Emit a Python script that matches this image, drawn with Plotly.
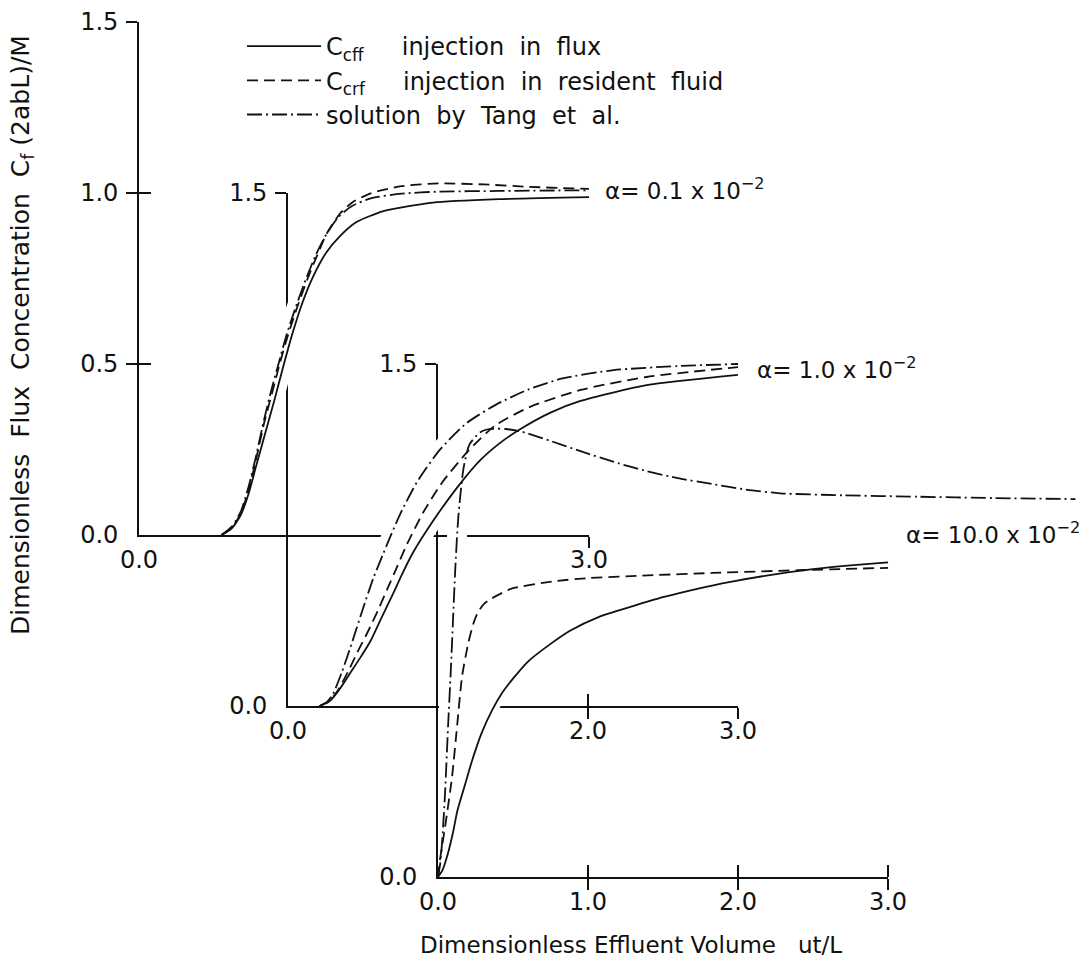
import numpy as np
import plotly.graph_objects as go

# ---------------- data (dimensionless effluent volume ut/L vs C_f(2abL)/M) ----------------
# alpha = 0.1 x 10^-2
p1_x_cff = [0.55, 0.62, 0.68, 0.73, 0.78, 0.84, 0.90, 0.96, 1.02, 1.09, 1.16, 1.25, 1.34, 1.45, 1.63, 1.96, 2.40, 3.00]
p1_y_cff = [0.00, 0.02, 0.06, 0.12, 0.20, 0.295, 0.39, 0.49, 0.585, 0.68, 0.755, 0.827, 0.874, 0.915, 0.947, 0.972, 0.982, 0.988]
p1_x_crf = [0.55, 0.62, 0.68, 0.73, 0.78, 0.83, 0.89, 0.94, 0.99, 1.05, 1.12, 1.19, 1.25, 1.34, 1.43, 1.55, 1.75, 2.00, 2.30, 2.60, 3.00]
p1_y_crf = [0.00, 0.02, 0.065, 0.13, 0.22, 0.32, 0.42, 0.504, 0.58, 0.66, 0.745, 0.82, 0.88, 0.94, 0.975, 1.00, 1.02, 1.028, 1.025, 1.018, 1.012]
p1_x_tang = [0.55, 0.62, 0.68, 0.73, 0.78, 0.83, 0.88, 0.93, 0.98, 1.04, 1.11, 1.18, 1.25, 1.33, 1.42, 1.55, 1.75, 2.00, 2.40, 3.00]
p1_y_tang = [0.00, 0.025, 0.07, 0.14, 0.23, 0.33, 0.42, 0.50, 0.58, 0.66, 0.745, 0.82, 0.88, 0.93, 0.962, 0.985, 0.998, 1.004, 1.006, 1.008]

# alpha = 1.0 x 10^-2
p2_x_cff = [0.21, 0.28, 0.35, 0.42, 0.48, 0.55, 0.62, 0.70, 0.76, 0.83, 0.97, 1.13, 1.28, 1.41, 1.55, 1.75, 1.95, 2.39, 3.00]
p2_y_cff = [0.00, 0.015, 0.053, 0.10, 0.14, 0.19, 0.255, 0.328, 0.385, 0.446, 0.543, 0.64, 0.718, 0.768, 0.81, 0.858, 0.892, 0.938, 0.968]
p2_x_crf = [0.21, 0.27, 0.33, 0.40, 0.46, 0.53, 0.60, 0.66, 0.73, 0.79, 0.90, 1.03, 1.20, 1.38, 1.61, 1.95, 2.39, 3.00]
p2_y_crf = [0.00, 0.012, 0.044, 0.10, 0.155, 0.215, 0.28, 0.34, 0.41, 0.47, 0.565, 0.655, 0.745, 0.82, 0.874, 0.924, 0.962, 0.991]
p2_x_tang = [0.21, 0.26, 0.30, 0.36, 0.43, 0.50, 0.57, 0.63, 0.68, 0.75, 0.86, 1.01, 1.19, 1.39, 1.60, 1.83, 2.17, 2.60, 3.00]
p2_y_tang = [0.00, 0.012, 0.035, 0.10, 0.19, 0.285, 0.375, 0.44, 0.493, 0.563, 0.655, 0.748, 0.827, 0.882, 0.925, 0.958, 0.982, 0.994, 1.00]

# alpha = 10.0 x 10^-2
p3_x_cff = [0.00, 0.03, 0.067, 0.10, 0.13, 0.18, 0.227, 0.29, 0.36, 0.43, 0.50, 0.60, 0.73, 0.88, 1.07, 1.30, 1.50, 1.75, 1.95, 2.20, 2.50, 2.75, 3.00]
p3_y_cff = [0.00, 0.02, 0.07, 0.13, 0.195, 0.27, 0.34, 0.42, 0.487, 0.54, 0.58, 0.63, 0.675, 0.72, 0.76, 0.792, 0.818, 0.845, 0.863, 0.882, 0.90, 0.911, 0.92]
p3_x_crf = [0.00, 0.013, 0.047, 0.093, 0.127, 0.16, 0.20, 0.235, 0.267, 0.31, 0.36, 0.49, 0.76, 1.00, 1.40, 1.83, 2.40, 3.00]
p3_y_crf = [0.00, 0.05, 0.146, 0.29, 0.44, 0.585, 0.68, 0.74, 0.775, 0.80, 0.815, 0.843, 0.864, 0.874, 0.882, 0.889, 0.897, 0.904]
p3_x_tang = [0.00, 0.015, 0.027, 0.047, 0.067, 0.085, 0.10, 0.115, 0.135, 0.17, 0.21, 0.28, 0.35, 0.45, 0.55, 0.75, 0.95, 1.20, 1.39, 1.60, 1.83, 2.05, 2.28, 2.70, 3.20, 3.70, 4.25]
p3_y_tang = [0.00, 0.04, 0.10, 0.245, 0.44, 0.60, 0.75, 0.90, 1.05, 1.195, 1.265, 1.30, 1.31, 1.31, 1.303, 1.275, 1.245, 1.21, 1.187, 1.166, 1.149, 1.133, 1.122, 1.116, 1.112, 1.108, 1.105]

alpha_labels = ["α= 0.1 x 10<sup>−2</sup>", "α= 1.0 x 10<sup>−2</sup>", "α= 10.0 x 10<sup>−2</sup>"]

# tick labels / tick marks of each panel
x_label_vals = [[0, 3], [0, 2, 3], [0, 1, 2, 3]]
x_mark_vals = [[3], [2, 3], [1, 2, 3]]
y_label_vals = [[0, 0.5, 1.0, 1.5], [0, 1.5], [0, 1.5]]
y_mark_vals = [[0.5, 1.0, 1.5], [1.5], [1.5]]

legend_names = {
    "cff": "C<sub>cff</sub>\u00a0\u00a0\u00a0\u00a0 injection\u00a0 in\u00a0 flux",
    "crf": "C<sub>crf</sub>\u00a0\u00a0\u00a0\u00a0 injection\u00a0 in\u00a0 resident\u00a0 fluid",
    "tang": "solution\u00a0 by\u00a0 Tang\u00a0 et\u00a0 al.",
}

panels = [
    {"cff": (p1_x_cff, p1_y_cff), "crf": (p1_x_crf, p1_y_crf), "tang": (p1_x_tang, p1_y_tang)},
    {"cff": (p2_x_cff, p2_y_cff), "crf": (p2_x_crf, p2_y_crf), "tang": (p2_x_tang, p2_y_tang)},
    {"cff": (p3_x_cff, p3_y_cff), "crf": (p3_x_crf, p3_y_crf), "tang": (p3_x_tang, p3_y_tang)},
]

# ---------------- geometry & style ----------------
W, H = 1083, 966
X_SCALE, Y_SCALE = 150.0, 342.0          # px per unit
ORIGINS = [(139, 535), (288, 706), (438, 877)]
X_MAX_AXIS = 3.0
Y_MAX_AXIS = 1.5
X_MAX_CURVES = [3.0, 3.0, 4.3]

FONT = "DejaVu Sans"
INK = "#111111"
LW = 1.8
DASH = {"cff": "solid", "crf": "11px,6px", "tang": "15px,4px,2px,4px"}
HALO_W = {0: 18, 1: 18, 2: 11}
HALO_W_TANG3 = 20
LOW_CUT = 0.06      # halos stop short of a panel's own baseline
FILL_TOP3 = 0.6     # knock-out band of the alpha=10e-2 family near its own origin

# subplot slots, in drawing order (later slots are drawn on top)
A_SLOT = {0: 1, 1: 2, 2: 4}     # visible axes
H_SLOT = {2: 3, 0: 5, 1: 6}     # white knock-out halos
C_SLOT = {0: 7, 1: 8, 2: 9}     # curves + inner tick halves


def ax_id(letter, n):
    return letter if n == 1 else f"{letter}{n}"


def ax_key(letter, n):
    return f"{letter}axis" if n == 1 else f"{letter}axis{n}"


def xdom(p, xmax):
    x0 = ORIGINS[p][0]
    return [x0 / W, min(1.0, (x0 + X_SCALE * xmax) / W)]


def ydom(p, ymax):
    y0 = ORIGINS[p][1]
    return [1 - y0 / H, 1 - (y0 - Y_SCALE * ymax) / H]


def halo(xs, ys, xa, ya, width, fill="none"):
    return go.Scatter(x=xs, y=ys, mode="lines", xaxis=xa, yaxis=ya,
                      line=dict(color="white", width=width, shape="spline", smoothing=0.6),
                      fill=fill, fillcolor="white", showlegend=False, hoverinfo="skip")


fig = go.Figure()
slot_panel = {}
for p, s in A_SLOT.items():
    slot_panel[s] = ("A", p)
for p, s in H_SLOT.items():
    slot_panel[s] = ("H", p)
for p, s in C_SLOT.items():
    slot_panel[s] = ("C", p)

for slot in range(1, 10):
    kind, p = slot_panel[slot]
    xa, ya = ax_id("x", slot), ax_id("y", slot)
    curves = panels[p]
    if kind == "A":
        fig.add_trace(go.Scatter(x=[None], y=[None], mode="lines", xaxis=xa, yaxis=ya,
                                 showlegend=False, hoverinfo="skip"))
    elif kind == "H" and p in (0, 1):
        upper = "tang" if p == 1 else "crf"
        others = [k for k in ["tang", "crf"] if k != upper]
        for i, key in enumerate([upper, "cff"] + others):
            xs, ys = np.asarray(curves[key][0]), np.asarray(curves[key][1])
            m = ys >= LOW_CUT
            fig.add_trace(halo(xs[m], ys[m], xa, ya, HALO_W[p],
                               fill="tonexty" if i == 1 else "none"))
    elif kind == "H":
        # band between the Tang curve and C_cff close to the origin
        xt, yt = np.asarray(curves["tang"][0]), np.asarray(curves["tang"][1])
        xf, yf = np.asarray(curves["cff"][0]), np.asarray(curves["cff"][1])
        mt, mf = yt <= FILL_TOP3, yf <= FILL_TOP3
        fig.add_trace(halo(xt[mt], yt[mt], xa, ya, 1))
        fig.add_trace(halo(xf[mf], yf[mf], xa, ya, 1, fill="tonexty"))
        for key in ["tang", "crf", "cff"]:
            xs, ys = curves[key]
            fig.add_trace(halo(xs, ys, xa, ya, HALO_W_TANG3 if key == "tang" else HALO_W[p]))
    else:
        for key in ["cff", "crf", "tang"]:
            xs, ys = curves[key]
            fig.add_trace(go.Scatter(
                x=xs, y=ys, mode="lines", xaxis=xa, yaxis=ya,
                name=legend_names[key], showlegend=(p == 0),
                line=dict(color=INK, width=LW, dash=DASH[key], shape="spline", smoothing=0.6),
                hoverinfo="skip"))

tick_font = dict(family=FONT, size=24, color=INK)
layout_axes = {}
for slot in range(1, 10):
    kind, p = slot_panel[slot]
    xa, ya = ax_id("x", slot), ax_id("y", slot)
    xmax = X_MAX_AXIS if kind == "A" else X_MAX_CURVES[p]
    xd = dict(domain=xdom(p, xmax), range=[0, xmax], anchor=ya, automargin=False,
              showgrid=False, zeroline=False, fixedrange=True)
    yd = dict(domain=ydom(p, Y_MAX_AXIS), range=[0, Y_MAX_AXIS], anchor=xa, automargin=False,
              showgrid=False, zeroline=False, fixedrange=True)
    if kind == "A":
        xd.update(showline=True, linecolor=INK, linewidth=LW,
                  tickmode="array", tickvals=x_label_vals[p],
                  ticktext=[f"{v:.1f}" for v in x_label_vals[p]],
                  ticks="", tickfont=tick_font, ticklabelstandoff=2,
                  minor=dict(tickmode="array", tickvals=x_mark_vals[p], ticks="outside",
                             ticklen=11, tickwidth=LW, tickcolor=INK, showgrid=False))
        yd.update(showline=True, linecolor=INK, linewidth=LW,
                  tickmode="array", tickvals=y_label_vals[p],
                  ticktext=[f"{v:.1f}" for v in y_label_vals[p]],
                  ticks="", tickfont=tick_font, ticklabelstandoff=14,
                  minor=dict(tickmode="array", tickvals=y_mark_vals[p], ticks="outside",
                             ticklen=11, tickwidth=LW, tickcolor=INK, showgrid=False))
    elif kind == "C":
        xd.update(showline=False, showticklabels=False, tickmode="array",
                  tickvals=x_mark_vals[p], ticks="inside", ticklen=12,
                  tickwidth=LW, tickcolor=INK)
        yd.update(showline=False, showticklabels=False, tickmode="array",
                  tickvals=y_mark_vals[p], ticks="inside", ticklen=12,
                  tickwidth=LW, tickcolor=INK)
    else:
        xd.update(visible=False)
        yd.update(visible=False)
    layout_axes[ax_key("x", slot)] = xd
    layout_axes[ax_key("y", slot)] = yd

annotations = []
# alpha labels at the right end of each family of curves
alpha_shift = [(14, 4), (17, -4), (16, 2)]
for p in range(3):
    slot = A_SLOT[p]
    annotations.append(dict(
        text=alpha_labels[p], x=panels[p]["cff"][0][-1], y=1.0,
        xref=ax_id("x", slot), yref=ax_id("y", slot),
        xanchor="left", yanchor="middle", showarrow=False,
        xshift=alpha_shift[p][0], yshift=alpha_shift[p][1],
        font=dict(family=FONT, size=23, color=INK)))

# axis titles
annotations.append(dict(
    text="Dimensionless\u00a0 Flux\u00a0 Concentration\u00a0 C<sub>f</sub>\u00a0(2abL)/M",
    x=22 / W, y=1 - 335 / H, xref="paper", yref="paper", textangle=-90,
    xanchor="center", yanchor="middle", showarrow=False,
    font=dict(family=FONT, size=25, color=INK)))
annotations.append(dict(
    text="Dimensionless Effluent Volume\u00a0\u00a0 ut/L",
    x=631 / W, y=1 - 945 / H, xref="paper", yref="paper",
    xanchor="center", yanchor="middle", showarrow=False,
    font=dict(family=FONT, size=23, color=INK)))

fig.update_layout(
    template="none",
    width=W, height=H,
    margin=dict(l=0, r=0, t=0, b=0, pad=0, autoexpand=False),
    paper_bgcolor="white", plot_bgcolor="rgba(0,0,0,0)",
    font=dict(family=FONT, color=INK),
    showlegend=True,
    legend=dict(x=242 / W, y=1 - 24 / H, xanchor="left", yanchor="top",
                traceorder="normal",
                bgcolor="rgba(0,0,0,0)", borderwidth=0, itemwidth=74,
                font=dict(family=FONT, size=24, color=INK), tracegroupgap=0),
    annotations=annotations,
    **layout_axes,
)

fig.write_html("out.html")
